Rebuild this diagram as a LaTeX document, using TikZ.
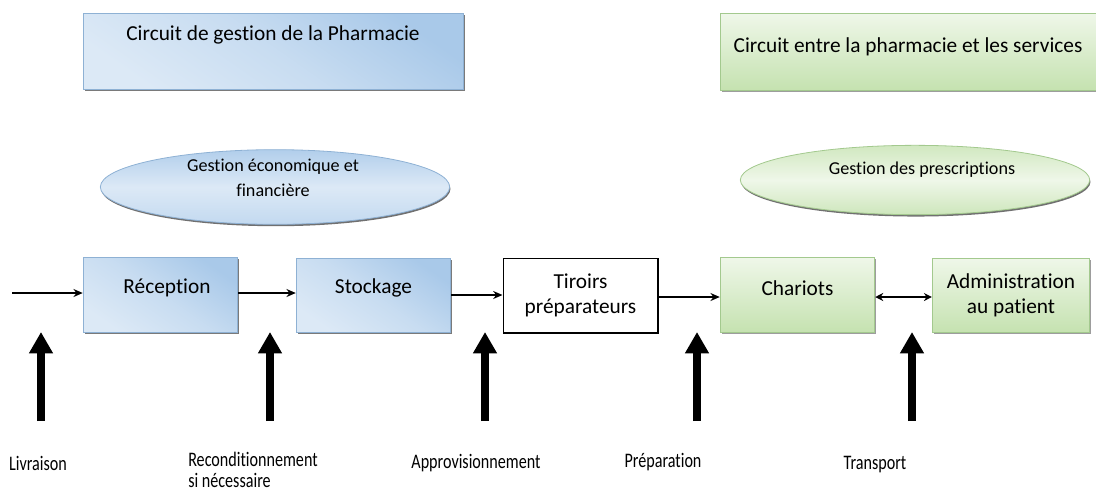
\documentclass[tikz,border=0pt]{standalone}
\usepackage{fontspec}
\setmainfont{Carlito}[Ligatures=NoCommon]
\newfontfamily\narrowfont{Carlito}[Ligatures=NoCommon, FakeStretch=0.78]
\usetikzlibrary{arrows.meta,shapes.geometric,shadows}

\definecolor{blueA}{HTML}{DCE9F6}
\definecolor{blueB}{HTML}{A9C9E9}
\definecolor{blueEdge}{HTML}{8EB1D4}
\definecolor{greenA}{HTML}{EFF7E9}
\definecolor{greenB}{HTML}{C5E2B0}
\definecolor{greenEdge}{HTML}{A3C98E}

\tikzset{
  px/.style={x=0.75pt,y=-0.75pt},
  boxfont/.style={font=\fontsize{16pt}{19pt}\selectfont},
  bluebox/.style={rectangle, draw=blueEdge, line width=0.6pt,
    top color=blueB, bottom color=blueA, middle color=blueA!60!blueB, shading angle=-35,
    drop shadow={shadow xshift=1.2pt, shadow yshift=-1.2pt, fill=black!65, opacity=0.8},
    boxfont, align=center, inner sep=0pt},
  greenbox/.style={rectangle, draw=greenEdge, line width=0.6pt,
    top color=greenA, bottom color=greenB,
    drop shadow={shadow xshift=1.2pt, shadow yshift=-1.2pt, fill=black!55, opacity=0.7},
    boxfont, align=center, inner sep=0pt},
  plainbox/.style={rectangle, draw=black, line width=1pt, fill=white,
    boxfont, align=center, inner sep=0pt},
  blueoval/.style={ellipse, draw=blueEdge, line width=0.6pt,
    top color=blueB!90!white, bottom color=blueB!70!white, middle color=blueA,
    drop shadow={shadow xshift=0.6pt, shadow yshift=-1.4pt, fill=black!70, opacity=0.8},
    inner sep=0pt},
  greenoval/.style={ellipse, draw=greenEdge, line width=0.6pt,
    top color=greenB!80!white, bottom color=greenB!85!white, middle color=greenA,
    drop shadow={shadow xshift=0.6pt, shadow yshift=-1.4pt, fill=black!70, opacity=0.8},
    inner sep=0pt},
  flow/.style={-{Stealth[length=7pt,width=6pt]}, line width=1.1pt},
  bothflow/.style={{Stealth[length=6pt,width=6pt]}-{Stealth[length=6pt,width=6pt]}, line width=1.1pt},
  bigup/.style={-{Triangle[length=16pt,width=17pt]}, line width=6pt},
  steplabel/.style={font=\narrowfont\fontsize{15.5pt}{16pt}\selectfont, inner sep=0pt, align=left},
  title/.style={boxfont, inner sep=0pt},
  ovaltext/.style={font=\fontsize{13.6pt}{19pt}\selectfont, align=center, inner sep=0pt}
}

\begin{document}
\begin{tikzpicture}[px]
\useasboundingbox (0,0) rectangle (1096,494);

% two headings
\node[bluebox, minimum width=285pt, minimum height=57pt] (pharma) at (273,51) {};
\node[title] at (273,35) {Circuit de gestion de la Pharmacie};
\node[greenbox, minimum width=285pt, minimum height=57.75pt] (services) at (910,51.5) {};
\node[title] at (908,47) {Circuit entre la pharmacie et les services};

% management ovals
\node[blueoval, minimum width=262pt, minimum height=56pt] (eco) at (275,187) {};
\node[ovaltext] at (273,178) {Gestion économique et\\financière};
\node[greenoval, minimum width=262pt, minimum height=52pt] (presc) at (915,180) {};
\node[ovaltext] at (922,170) {Gestion des prescriptions};

% process chain
\node[bluebox, minimum width=116pt, minimum height=56pt] (rec) at (160.5,295) {};
\node[title] at (167,288) {Réception};
\node[bluebox, minimum width=116pt, minimum height=56pt] (sto) at (373.5,295.5) {};
\node[title] at (373.5,288) {Stockage};
\node[plainbox, minimum width=116pt, minimum height=56pt] (tir) at (580.5,295.5) {Tiroirs\\préparateurs};
\node[greenbox, minimum width=116pt, minimum height=56pt] (cha) at (797.5,295) {};
\node[title] at (797.5,288) {Chariots};
\node[greenbox, minimum width=118pt, minimum height=56pt] (adm) at (1011,295.5) {Administration\\au patient};

\coordinate (in) at (12,293);
\draw[flow] (in) -- (rec.west |- in);
\draw[flow] (rec.east |- 0,293) -- (sto.west |- 0,293);
\draw[flow] (sto.east |- 0,295) -- (tir.west |- 0,295);
\draw[flow] (tir.east |- 0,297) -- (cha.west |- 0,297);
\draw[bothflow] (cha.east |- 0,297) -- (adm.west |- 0,297);

% bottom labels and their arrows
\node[steplabel] (liv) at (38,463) {Livraison};
\node[steplabel, anchor=north west] (recond) at (188,452) {Reconditionnement\\si nécessaire};
\node[steplabel] (appro) at (476,463) {Approvisionnement};
\node[steplabel] (prep) at (663,462) {Préparation};
\node[steplabel] (trans) at (875,465) {Transport};

\foreach \x/\n in {41/a,270/b,485/c,697/d,912/e}{
  \coordinate (t\n) at (\x,421);
  \coordinate (h\n) at (\x,332);
  \draw[bigup] (t\n) -- (h\n);
}
\end{tikzpicture}
\end{document}
